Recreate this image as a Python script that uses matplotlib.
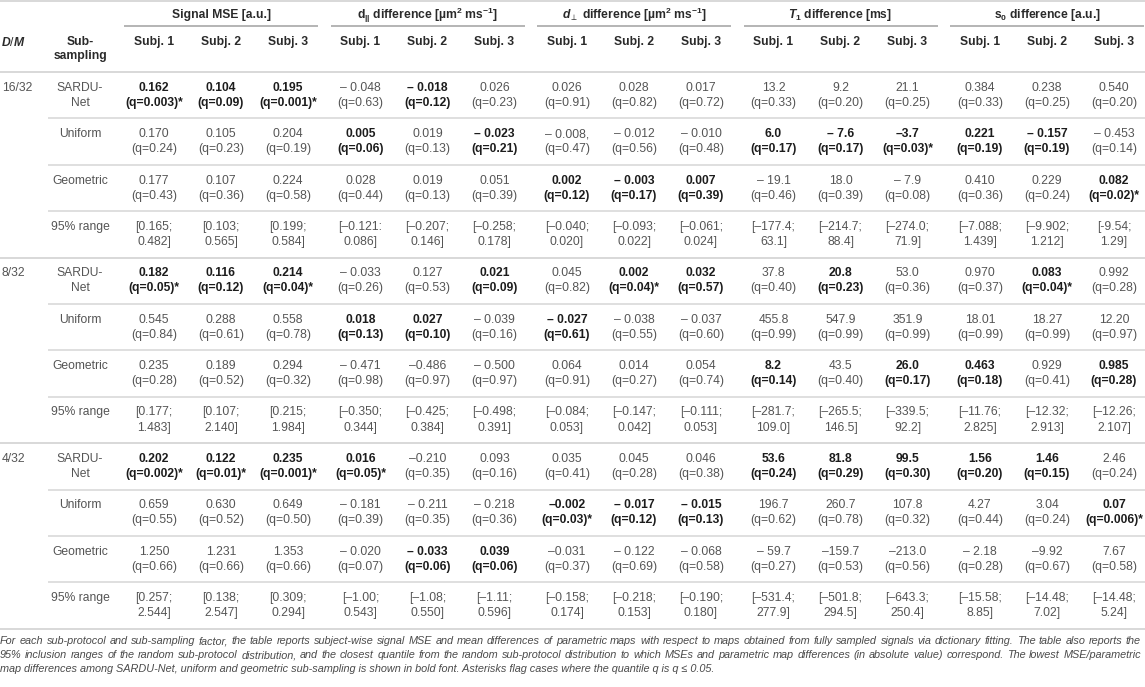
import matplotlib
matplotlib.use("Agg")
import matplotlib.pyplot as plt

plt.rcParams['font.family'] = ['Liberation Sans', 'DejaVu Sans']
plt.rcParams['mathtext.fontset'] = 'custom'
plt.rcParams['mathtext.rm'] = 'Liberation Sans:bold'
plt.rcParams['mathtext.it'] = 'Liberation Sans:italic:bold'
plt.rcParams['mathtext.bf'] = 'Liberation Sans:bold'

groups = ["Signal MSE [a.u.]",
          r"d$_{||}$ difference [µm$^{2}$ ms$^{-1}$]",
          r"$d_{\perp}$ difference [µm$^{2}$ ms$^{-1}$]",
          r"$T_{1}$ difference [ms]",
          r"s$_{0}$ difference [a.u.]"]
subjects = ["Subj. 1", "Subj. 2", "Subj. 3"]
factors = ["16/32", "8/32", "4/32"]
methods = ["SARDU-\nNet", "Uniform", "Geometric", "95% range"]

# values per factor: rows = SARDU-Net, Uniform, Geometric; 15 columns
val_16 = [
    ["0.162", "0.104", "0.195", "– 0.048", "– 0.018", "0.026", "0.026", "0.028", "0.017",
     "13.2", "9.2", "21.1", "0.384", "0.238", "0.540"],
    ["0.170", "0.105", "0.204", "0.005", "0.019", "– 0.023", "– 0.008,", "– 0.012", "– 0.010",
     "6.0", "– 7.6", "–3.7", "0.221", "– 0.157", "– 0.453"],
    ["0.177", "0.107", "0.224", "0.028", "0.019", "0.051", "0.002", "– 0.003", "0.007",
     "– 19.1", "18.0", "– 7.9", "0.410", "0.229", "0.082"],
]
q_16 = [
    ["0.003", "0.09", "0.001", "0.63", "0.12", "0.23", "0.91", "0.82", "0.72",
     "0.33", "0.20", "0.25", "0.33", "0.25", "0.20"],
    ["0.24", "0.23", "0.19", "0.06", "0.13", "0.21", "0.47", "0.56", "0.48",
     "0.17", "0.17", "0.03", "0.19", "0.19", "0.14"],
    ["0.43", "0.36", "0.58", "0.44", "0.13", "0.39", "0.12", "0.17", "0.39",
     "0.46", "0.39", "0.08", "0.36", "0.24", "0.02"],
]
bold_16 = [
    [1, 1, 1, 0, 1, 0, 0, 0, 0, 0, 0, 0, 0, 0, 0],
    [0, 0, 0, 1, 0, 1, 0, 0, 0, 1, 1, 1, 1, 1, 0],
    [0, 0, 0, 0, 0, 0, 1, 1, 1, 0, 0, 0, 0, 0, 1],
]
lo_16 = ["[0.165;", "[0.103;", "[0.199;", "[–0.121:", "[–0.207;", "[–0.258;", "[–0.040;", "[–0.093;",
         "[–0.061;", "[–177.4;", "[–214.7;", "[–274.0;", "[–7.088;", "[–9.902;", "[-9.54;"]
hi_16 = ["0.482]", "0.565]", "0.584]", "0.086]", "0.146]", "0.178]", "0.020]", "0.022]",
         "0.024]", "63.1]", "88.4]", "71.9]", "1.439]", "1.212]", "1.29]"]

val_8 = [
    ["0.182", "0.116", "0.214", "– 0.033", "0.127", "0.021", "0.045", "0.002", "0.032",
     "37.8", "20.8", "53.0", "0.970", "0.083", "0.992"],
    ["0.545", "0.288", "0.558", "0.018", "0.027", "– 0.039", "– 0.027", "– 0.038", "– 0.037",
     "455.8", "547.9", "351.9", "18.01", "18.27", "12.20"],
    ["0.235", "0.189", "0.294", "– 0.471", "–0.486", "– 0.500", "0.064", "0.014", "0.054",
     "8.2", "43.5", "26.0", "0.463", "0.929", "0.985"],
]
q_8 = [
    ["0.05", "0.12", "0.04", "0.26", "0.53", "0.09", "0.82", "0.04", "0.57",
     "0.40", "0.23", "0.36", "0.37", "0.04", "0.28"],
    ["0.84", "0.61", "0.78", "0.13", "0.10", "0.16", "0.61", "0.55", "0.60",
     "0.99", "0.99", "0.99", "0.99", "0.99", "0.97"],
    ["0.28", "0.52", "0.32", "0.98", "0.97", "0.97", "0.91", "0.27", "0.74",
     "0.14", "0.40", "0.17", "0.18", "0.41", "0.28"],
]
bold_8 = [
    [1, 1, 1, 0, 0, 1, 0, 1, 1, 0, 1, 0, 0, 1, 0],
    [0, 0, 0, 1, 1, 0, 1, 0, 0, 0, 0, 0, 0, 0, 0],
    [0, 0, 0, 0, 0, 0, 0, 0, 0, 1, 0, 1, 1, 0, 1],
]
lo_8 = ["[0.177;", "[0.107;", "[0.215;", "[–0.350;", "[–0.425;", "[–0.498;", "[–0.084;", "[–0.147;",
        "[–0.111;", "[–281.7;", "[–265.5;", "[–339.5;", "[–11.76;", "[–12.32;", "[–12.26;"]
hi_8 = ["1.483]", "2.140]", "1.984]", "0.344]", "0.384]", "0.391]", "0.053]", "0.042]",
        "0.053]", "109.0]", "146.5]", "92.2]", "2.825]", "2.913]", "2.107]"]

val_4 = [
    ["0.202", "0.122", "0.235", "0.016", "–0.210", "0.093", "0.035", "0.045", "0.046",
     "53.6", "81.8", "99.5", "1.56", "1.46", "2.46"],
    ["0.659", "0.630", "0.649", "– 0.181", "– 0.211", "– 0.218", "–0.002", "– 0.017", "– 0.015",
     "196.7", "260.7", "107.8", "4.27", "3.04", "0.07"],
    ["1.250", "1.231", "1.353", "– 0.020", "– 0.033", "0.039", "–0.031", "– 0.122", "– 0.068",
     "– 59.7", "–159.7", "–213.0", "– 2.18", "–9.92", "7.67"],
]
q_4 = [
    ["0.002", "0.01", "0.001", "0.05", "0.35", "0.16", "0.41", "0.28", "0.38",
     "0.24", "0.29", "0.30", "0.20", "0.15", "0.24"],
    ["0.55", "0.52", "0.50", "0.39", "0.35", "0.36", "0.03", "0.12", "0.13",
     "0.62", "0.78", "0.32", "0.44", "0.24", "0.006"],
    ["0.66", "0.66", "0.66", "0.07", "0.06", "0.06", "0.37", "0.69", "0.58",
     "0.27", "0.53", "0.56", "0.28", "0.67", "0.58"],
]
bold_4 = [
    [1, 1, 1, 1, 0, 0, 0, 0, 0, 1, 1, 1, 1, 1, 0],
    [0, 0, 0, 0, 0, 0, 1, 1, 1, 0, 0, 0, 0, 0, 1],
    [0, 0, 0, 0, 1, 1, 0, 0, 0, 0, 0, 0, 0, 0, 0],
]
lo_4 = ["[0.257;", "[0.138;", "[0.309;", "[–1.00;", "[–1.08;", "[–1.11;", "[–0.158;", "[–0.218;",
        "[–0.190;", "[–531.4;", "[–501.8;", "[–643.3;", "[–15.58;", "[–14.48;", "[–14.48;"]
hi_4 = ["2.544]", "2.547]", "0.294]", "0.543]", "0.550]", "0.596]", "0.174]", "0.153]",
        "0.180]", "277.9]", "294.5]", "250.4]", "8.85]", "7.02]", "5.24]"]

caption = [
    "For each sub-protocol and sub-sampling factor, the table reports subject-wise signal MSE and mean "
    "differences of parametric maps with respect to maps obtained from fully sampled signals via dictionary "
    "fitting. The table also reports the",
    "95% inclusion ranges of the random sub-protocol distribution, and the closest quantile from the random "
    "sub-protocol distribution to which MSEs and parametric map differences (in absolute value) correspond. "
    "The lowest MSE/parametric",
    "map differences among SARDU-Net, uniform and geometric sub-sampling is shown in bold font. "
    "Asterisks flag cases where the quantile q is q ≤ 0.05.",
]

values = [val_16, val_8, val_4]
quants = [q_16, q_8, q_4]
bolds = [bold_16, bold_8, bold_4]
lows = [lo_16, lo_8, lo_4]
highs = [hi_16, hi_8, hi_4]

W, H = 1145, 687
fig = plt.figure(figsize=(W / 100, H / 100), dpi=100)
ax = fig.add_axes([0, 0, 1, 1])
ax.set_xlim(0, W)
ax.set_ylim(H, 0)
ax.axis('off')

txt_grey = '#555555'
txt_dark = '#1c1c1c'
rule = '#d6d6d6'
fs = 8.7


def group_x(g):
    return 221 + 206.5 * g


def col_x(j):
    g, k = divmod(j, 3)
    return group_x(g) + 67 * (k - 1)


# header
ax.hlines([1, 72], 0, W, color=rule, lw=1.3)
for g, name in enumerate(groups):
    cx = group_x(g)
    ax.text(cx, 15, name, ha='center', va='center', fontsize=fs, fontweight='bold', color='#2a2a2a')
    ax.hlines(26, cx - 97, min(cx + 97, W), color='#b4b4b4', lw=1.4)
    for k, s in enumerate(subjects):
        ax.text(col_x(3 * g + k), 42, s, ha='center', va='center', fontsize=fs,
                fontweight='bold', color='#2a2a2a')
ax.text(1, 42, "$D$/$M$", ha='left', va='center', fontsize=fs, color='#2a2a2a')
ax.text(80, 42, "Sub-", ha='center', va='center', fontsize=fs, fontweight='bold', color='#2a2a2a')
ax.text(80, 56, "sampling", ha='center', va='center', fontsize=fs, fontweight='bold', color='#2a2a2a')

# body
row_top = 72
row_h = 46.4
for f, factor in enumerate(factors):
    for m, method in enumerate(methods):
        r = 4 * f + m
        yc = row_top + row_h * (r + 0.5)
        y1, y2 = yc - 7.5, yc + 7.5
        if m == 0:
            ax.text(2, y1, factor, ha='left', va='center', fontsize=fs, color=txt_grey)
        for i, part in enumerate(method.split("\n")):
            ax.text(80, y1 + 15 * i, part, ha='center', va='center', fontsize=fs, color=txt_grey)
        for j in range(15):
            x = col_x(j)
            if m < 3:
                b = bolds[f][m][j]
                q = quants[f][m][j]
                qs = "(q=" + q + ")" + ("*" if float(q) <= 0.05 else "")
                kw = dict(ha='center', va='center', fontsize=fs,
                          fontweight='bold' if b else 'normal',
                          color=txt_dark if b else txt_grey)
                ax.text(x, y1, values[f][m][j], **kw)
                ax.text(x, y2, qs, **kw)
            else:
                ax.text(x, y1, lows[f][j], ha='center', va='center', fontsize=fs, color=txt_grey)
                ax.text(x, y2, highs[f][j], ha='center', va='center', fontsize=fs, color=txt_grey)
        yb = row_top + row_h * (r + 1)
        if m < 3:
            ax.hlines(yb, 48, W, color=rule, lw=1.1)
        else:
            ax.hlines(yb, 0, W, color=rule, lw=1.3)

# caption, first two lines justified
cap_y = [644, 658, 671.5]
fig.canvas.draw()
renderer = fig.canvas.get_renderer()
for i, line in enumerate(caption):
    kw = dict(ha='left', va='baseline', fontsize=7.85, style='italic', color='#4a4a4a')
    if i == len(caption) - 1:
        ax.text(0, cap_y[i], line, **kw)
        continue
    words = line.split(" ")
    texts = [ax.text(0, cap_y[i], w, **kw) for w in words]
    widths = [t.get_window_extent(renderer).width for t in texts]
    gap = (1141 - sum(widths)) / (len(words) - 1)
    x = 0
    for t, w in zip(texts, widths):
        t.set_x(x)
        x += w + gap

fig.savefig("out.png", dpi=100)
